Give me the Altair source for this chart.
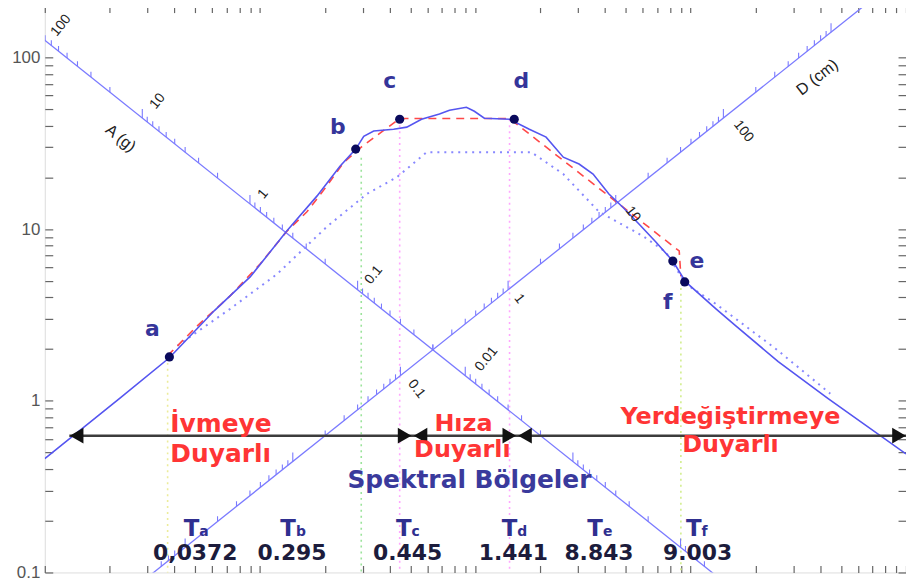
import math
import altair as alt
import pandas as pd

# ---------------- data (period T in s, pseudo-spectral velocity V in cm/s) ----------------
spec_T = [0.01, 0.0222, 0.0379, 0.0612, 0.0899, 0.133, 0.184, 0.235, 0.278, 0.303, 0.337, 0.417,
          0.480, 0.562, 0.681, 0.758, 0.908, 0.989, 1.10, 1.44, 1.78, 2.13, 2.56, 3.03, 3.52,
          4.17, 4.84, 5.75, 6.89, 8.26, 9.48, 13.1, 16.2, 25.5, 43.5, 100.0]
spec_V = [0.46, 1.03, 1.78, 3.34, 5.26, 9.73, 15.6, 23.2, 29.2, 34.7, 37.2, 38.1,
          39.2, 43.6, 46.7, 49.2, 51.2, 48.5, 44.2, 43.6, 38.1, 34.3, 26.2, 23.9, 20.9,
          16.0, 13.4, 10.7, 8.40, 6.51, 4.92, 3.43, 2.73, 1.69, 1.03, 0.49]

design_T = [0.0372, 0.0511, 0.0726, 0.100, 0.1334, 0.165, 0.204, 0.245, 0.295, 0.445, 1.441,
            8.843, 9.003]
design_V = [1.83, 2.73, 4.08, 6.26, 9.73, 12.6, 17.8, 24.5, 30.0, 44.0, 44.0, 7.45, 5.3]

lower_T = [0.0413, 0.0726, 0.120, 0.204, 0.313, 0.431, 0.593, 1.82, 2.56, 3.75, 6.00, 7.66,
           9.48, 13.1, 24.8, 44.5]
lower_V = [2.09, 3.43, 5.47, 10.3, 16.0, 20.0, 28.0, 28.0, 20.9, 12.6, 9.1, 7.35,
           4.79, 3.66, 2.01, 1.10]

point_names = ["a", "b", "c", "d", "e", "f"]
point_T = [0.0379, 0.278, 0.445, 1.515, 8.26, 9.38]
point_V = [1.80, 29.2, 43.6, 43.6, 6.51, 4.92]

period_subs = ["a", "b", "c", "d", "e", "f"]
period_values = [0.0372, 0.295, 0.445, 1.441, 8.843, 9.003]
period_text = ["0,0372", "0.295", "0.445", "1.441", "8.843", "9.003"]

# vertical guide lines (period, top value)
guide_T = [0.0372, 0.295, 0.445, 1.441, 9.003]
guide_top = [1.80, 26.0, 43.6, 43.6, 4.92]
guide_colors = ["#ecec9a", "#9be39b", "#ffa6ff", "#ffa6ff", "#d2ee8e"]

# tripartite reference lines
G = 981.0        # cm/s^2
D_LINE = 0.2     # cm, line carrying the A (g) scale
A_LINE = 0.02    # g, line carrying the D (cm) scale
a_labels = ["100", "10", "1", "0.1", "0.01"]
d_labels = ["0.1", "1", "10", "100"]

x_ticks = [round(m * 10.0 ** k, 6) for k in range(-2, 2) for m in range(1, 10)] + [100.0]
y_ticks = [round(m * 10.0 ** k, 6) for k in range(-1, 2) for m in range(1, 10)] + [100.0, 200.0]
a_tick_values = [round(m * 10.0 ** k, 9) for k in range(-5, 3) for m in range(1, 10)]
d_tick_values = [round(m * 10.0 ** k, 9) for k in range(-4, 4) for m in range(1, 10)]

# annotation positions (data units)
a_lab_T = [0.0119, 0.0334, 0.1032, 0.337, 1.125]
a_lab_V = [153.0, 55.5, 16.0, 5.40, 1.75]
d_lab_T = [0.533, 1.599, 5.39, 17.6]
d_lab_V = [1.17, 3.92, 12.2, 37.1]
letter_T = [0.0316, 0.2297, 0.400, 1.633, 10.7, 7.83]
letter_V = [2.62, 39.2, 72.5, 72.5, 6.51, 3.76]
tlabel_T = [0.0500, 0.1406, 0.484, 1.50, 3.75, 10.77]
arrow_span = [0.013, 100.0]
arrow_V = 0.626
head_T = [0.01406, 0.469, 0.556, 1.437, 1.70, 92.8]
head_shape = ["triangle-left", "triangle-right", "triangle-left", "triangle-right",
              "triangle-left", "triangle-right"]

W, H = 866, 570
X = alt.Scale(type="log", domain=[0.01, 100])
Y = alt.Scale(type="log", domain=[0.1, 200])


def xy(xf="T", yf="V"):
    return dict(x=alt.X(f"{xf}:Q", scale=X, axis=None),
                y=alt.Y(f"{yf}:Q", scale=Y, axis=None))


# ---------------- frame axes ----------------
corner = pd.DataFrame({"T": [0.01], "V": [0.1]})
tick_style = dict(domain=False, grid=False, tickColor="#666", tickWidth=1.2, title=None)
axes_bl = alt.Chart(corner).mark_point(opacity=0).encode(
    x=alt.X("T:Q", scale=X, axis=alt.Axis(orient="bottom", values=x_ticks, labels=False,
                                           tickSize=7, offset=-7, **tick_style)),
    y=alt.Y("V:Q", scale=Y, axis=alt.Axis(
        orient="left", values=y_ticks, format="~g",
        labelExpr="indexof(['0.1','1','10','100'], datum.label) >= 0 ? datum.label : ''",
        tickSize=8, offset=-8, labelPadding=5, labelFont="Liberation Sans",
        labelFontSize=17, labelColor="#555", labelOverlap=False, **tick_style)),
)
axes_tr = alt.Chart(corner).mark_point(opacity=0).encode(
    x=alt.X("T:Q", scale=X, axis=alt.Axis(orient="top", values=x_ticks, labels=False,
                                           tickSize=7, offset=-7, **tick_style)),
    y=alt.Y("V:Q", scale=Y, axis=alt.Axis(orient="right", values=y_ticks, labels=False,
                                           tickSize=8, offset=-8, **tick_style)),
)

# ---------------- tripartite lines and their ticks ----------------
diag_rows = []
for T in [0.01, 100.0]:
    diag_rows.append({"line": "D", "T": T, "V": 2 * math.pi * D_LINE / T})
    diag_rows.append({"line": "A", "T": T, "V": A_LINE * G * T / (2 * math.pi)})
diag_df = pd.DataFrame(diag_rows)

tick_rows = []
for a in a_tick_values:
    T = 2 * math.pi * math.sqrt(D_LINE / (a * G))
    V = 2 * math.pi * D_LINE / T
    if 0.01 <= T <= 100 and 0.1 <= V <= 200:
        major = abs(math.log10(a) - round(math.log10(a))) < 1e-9
        tick_rows.append({"T": T, "V": V, "sz": 324 if major else 110})
for d in d_tick_values:
    T = 2 * math.pi * math.sqrt(d / (A_LINE * G))
    V = A_LINE * G * T / (2 * math.pi)
    if 0.01 <= T <= 100 and 0.1 <= V <= 200:
        major = abs(math.log10(d) - round(math.log10(d))) < 1e-9
        tick_rows.append({"T": T, "V": V, "sz": 324 if major else 110})
tick_df = pd.DataFrame(tick_rows)

AXBLUE = "#7a7aff"
diag = alt.Chart(diag_df).mark_line(color=AXBLUE, strokeWidth=1.3, clip=True).encode(
    detail="line:N", **xy())
diag_ticks = alt.Chart(tick_df).mark_point(
    shape="M0,0L0,-1", filled=False, color=AXBLUE, strokeWidth=1.1, opacity=1, clip=True
).encode(size=alt.Size("sz:Q", scale=None), **xy())

# ---------------- curves ----------------
spec_df = pd.DataFrame({"T": spec_T, "V": spec_V})
design_df = pd.DataFrame({"T": design_T, "V": design_V})
lower_df = pd.DataFrame({"T": lower_T, "V": lower_V})
guide_df = pd.DataFrame({"T": guide_T, "top": guide_top, "bot": [0.1] * len(guide_T),
                         "c": guide_colors})

guides = alt.Chart(guide_df).mark_rule(strokeWidth=1.6, strokeDash=[2, 4]).encode(
    x=alt.X("T:Q", scale=X, axis=None), y=alt.Y("top:Q", scale=Y, axis=None),
    y2="bot:Q", color=alt.Color("c:N", scale=None))
lower = alt.Chart(lower_df).mark_line(color="#8888ff", strokeWidth=2, strokeDash=[2, 5]).encode(**xy())
design = alt.Chart(design_df).mark_line(color="#ff4848", strokeWidth=1.6, strokeDash=[8, 6]).encode(**xy())
spec = alt.Chart(spec_df).mark_line(color="#5555f0", strokeWidth=1.6, clip=True).encode(**xy())

point_df = pd.DataFrame({"T": point_T, "V": point_V})
dots = alt.Chart(point_df).mark_circle(color="#0a0a5c", size=85, opacity=1).encode(**xy())

# ---------------- arrow line of spectral regions ----------------
arrow_df = pd.DataFrame({"T": [arrow_span[0]], "T2": [arrow_span[1]], "V": [arrow_V]})
arrow = alt.Chart(arrow_df).mark_rule(color="#3c3c3c", strokeWidth=2.5).encode(
    x=alt.X("T:Q", scale=X, axis=None), x2="T2:Q", y=alt.Y("V:Q", scale=Y, axis=None))
head_df = pd.DataFrame({"T": head_T, "V": [arrow_V] * len(head_T), "shape": head_shape})
heads = alt.Chart(head_df).mark_point(filled=True, color="#111111", size=250, opacity=1).encode(
    shape=alt.Shape("shape:N", scale=None), **xy())


# ---------------- texts ----------------
def text_layer(df, **mark):
    enc = dict(text="label:N", **xy())
    if "ang" in df.columns:
        enc["angle"] = alt.Angle("ang:Q", scale=None)
    return alt.Chart(df).mark_text(**mark).encode(**enc)


diag_lab_df = pd.DataFrame({
    "label": a_labels + d_labels,
    "T": a_lab_T + d_lab_T,
    "V": a_lab_V + d_lab_V,
    "ang": [309] * len(a_labels) + [52] * len(d_labels),
})
diag_labels = text_layer(diag_lab_df, font="Liberation Sans", fontSize=14, color="#222222")
diag_title_df = pd.DataFrame({"label": ["A (g)", "D (cm)"], "T": [0.0225, 38.7],
                              "V": [33.8, 76.5], "ang": [39, 322]})
diag_titles = text_layer(diag_title_df, font="Liberation Sans", fontSize=16, color="#222222")

letters = text_layer(pd.DataFrame({"label": point_names, "T": letter_T, "V": letter_V}),
                     font="DejaVu Sans", fontSize=22, fontWeight="bold", color="#35359a")

red_df = pd.DataFrame({
    "label": ["Hıza", "Duyarlı", "Yerdeğiştirmeye", "Duyarlı"],
    "T": [0.880, 0.870, 15.3, 15.3],
    "V": [0.668, 0.468, 0.735, 0.505],
})
red = text_layer(red_df, font="DejaVu Sans", fontSize=24, fontWeight="bold", color="#ff3535",
                 baseline="alphabetic", align="center")
red_left_df = pd.DataFrame({"label": ["İvmeye", "Duyarlı"], "T": [0.0383, 0.0383],
                            "V": [0.660, 0.442]})
red_left = text_layer(red_left_df, font="DejaVu Sans", fontSize=25, fontWeight="bold",
                      color="#ff3535", baseline="alphabetic", align="left")

title_df = pd.DataFrame({"label": ["Spektral Bölgeler"], "T": [0.938], "V": [0.309]})
title = text_layer(title_df, font="DejaVu Sans", fontSize=25, fontWeight="bold",
                   color="#3a3a9c", baseline="alphabetic", align="center")

tl_df = pd.DataFrame({"label": ["T"] * 6, "T": tlabel_T, "V": [0.164] * 6})
t_main = text_layer(tl_df, font="DejaVu Sans", fontSize=23, fontWeight="bold", color="#2f2f8f",
                    baseline="alphabetic", align="right", dx=4)
ts_df = pd.DataFrame({"label": period_subs, "T": tlabel_T, "V": [0.164] * 6})
t_sub = text_layer(ts_df, font="DejaVu Sans", fontSize=14, fontWeight="bold", color="#2f2f8f",
                   baseline="alphabetic", align="left", dx=4)
tv_df = pd.DataFrame({"label": period_text, "T": tlabel_T, "V": [0.1175] * 6})
t_val = text_layer(tv_df, font="DejaVu Sans", fontSize=22, fontWeight="bold", color="#1c1c3c",
                   baseline="alphabetic", align="center")

chart = alt.layer(
    axes_bl, axes_tr, guides, diag, diag_ticks, lower, design, spec, dots,
    arrow, heads, diag_labels, diag_titles, letters, red, red_left, title, t_main, t_sub, t_val,
).properties(
    width=W, height=H,
    autosize=alt.AutoSizeParams(type="none"),
    padding={"left": 37, "top": -4, "right": 0, "bottom": 13},
).resolve_axis(
    x="independent", y="independent"
).configure_view(stroke="#555555", strokeWidth=1.5).configure(background="white")

chart.save("out.html", embed_options={"renderer": "svg", "actions": False})
